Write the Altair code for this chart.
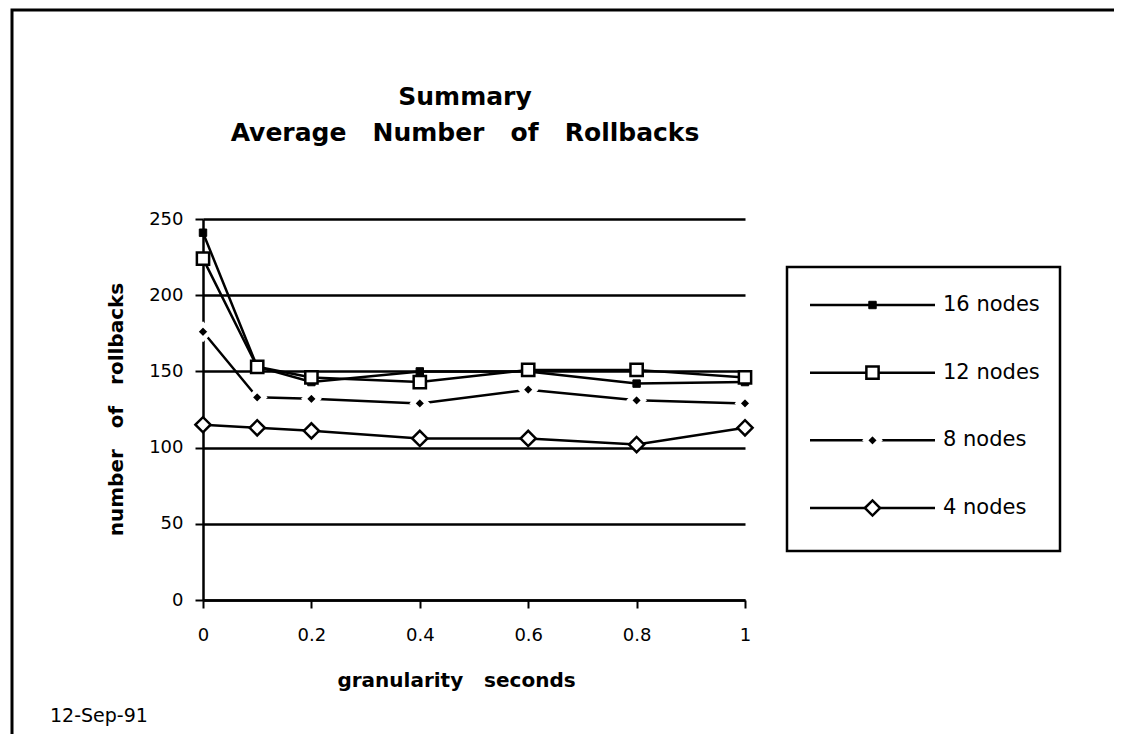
import altair as alt
import pandas as pd

# ---- data ----
granularity = [0, 0.1, 0.2, 0.4, 0.6, 0.8, 1.0]
nodes16 = [241, 153, 143, 150, 150, 142, 143]
nodes12 = [224, 153, 146, 143, 151, 151, 146]
nodes8 = [176, 133, 132, 129, 138, 131, 129]
nodes4 = [115, 113, 111, 106, 106, 102, 113]
series_names = ["16 nodes", "12 nodes", "8 nodes", "4 nodes"]
x_ticks = [0, 0.2, 0.4, 0.6, 0.8, 1.0]
y_ticks = [0, 50, 100, 150, 200, 250]
date_label = ["12-Sep-91"]

FONT = "DejaVu Sans"

rows = []
for name, vals in zip(series_names, [nodes16, nodes12, nodes8, nodes4]):
    for g, v in zip(granularity, vals):
        rows.append({"series": name, "g": g, "v": v})
df = pd.DataFrame(rows)

leg = pd.DataFrame({"series": series_names, "row": list(range(len(series_names)))})

# marker styles per series
styles = {
    "16 nodes": dict(shape="square", filled=True, size=55, fill="black", stroke="black", strokeWidth=1, opacity=1),
    "12 nodes": dict(shape="square", filled=True, size=150, fill="white", stroke="black", strokeWidth=2.5, opacity=1),
    "8 nodes": dict(shape="diamond", filled=True, size=210, fill="black", stroke="white", strokeWidth=4.5, opacity=1),
    "4 nodes": dict(shape="diamond", filled=True, size=230, fill="white", stroke="black", strokeWidth=2.5, opacity=1),
}
draw_order = ["4 nodes", "8 nodes", "16 nodes", "12 nodes"]

xs = alt.Scale(domain=[0, 1], nice=False, zero=False)
ys = alt.Scale(domain=[0, 250], nice=False)

x_enc = alt.X(
    "g:Q", scale=xs,
    axis=alt.Axis(values=x_ticks, format="~g", title="granularity\u00a0\u00a0 seconds",
                  titleX=253, titleY=86, titleAlign="center", titleBaseline="alphabetic",
                  labelPadding=18, tickSize=8, grid=False, labelFlush=False),
)
y_enc = alt.Y(
    "v:Q", scale=ys,
    axis=alt.Axis(values=y_ticks, title="number\u00a0\u00a0 of\u00a0\u00a0 rollbacks",
                  titleX=-87, titleY=190, titleAngle=270, titleAlign="center", titleBaseline="middle",
                  labelPadding=12, tickSize=8, grid=True),
)

base = alt.Chart(df)
lines = base.mark_line(color="black", strokeWidth=2.5).encode(x=x_enc, y=y_enc, detail="series:N")

marker_layers = []
for s in draw_order:
    marker_layers.append(
        base.transform_filter(alt.datum.series == s).mark_point(**styles[s]).encode(x=x_enc, y=y_enc)
    )

main = alt.layer(lines, *marker_layers)

# ---- legend drawn with its own scales ----
lx = alt.Scale(domain=[0, 1], range=[607, 732])
ly = alt.Scale(domain=[0, 3], range=[86, 289])
lbase = alt.Chart(leg)
leg_rule = lbase.mark_rule(color="black", strokeWidth=2.5).encode(
    x=alt.X(datum=0, type="quantitative", scale=lx, axis=None),
    x2=alt.X2(datum=1),
    y=alt.Y("row:Q", scale=ly, axis=None),
)
leg_marks = []
for s in series_names:
    leg_marks.append(
        lbase.transform_filter(alt.datum.series == s).mark_point(**styles[s]).encode(
            x=alt.X(datum=0.5, type="quantitative", scale=lx, axis=None),
            y=alt.Y("row:Q", scale=ly, axis=None),
        )
    )
leg_text = lbase.mark_text(align="left", baseline="middle", dx=8, fontSize=21, font=FONT, color="black").encode(
    x=alt.X(datum=1, type="quantitative", scale=lx, axis=None),
    y=alt.Y("row:Q", scale=ly, axis=None),
    text="series:N",
)
legend = alt.layer(leg_rule, *leg_marks, leg_text)

one = pd.DataFrame({"k": [0]})
leg_box = alt.Chart(one).mark_rect(fillOpacity=0, stroke="black", strokeWidth=2.5).encode(
    x=alt.value(584), x2=alt.value(857), y=alt.value(48), y2=alt.value(332)
)
frame = alt.Chart(one).mark_rect(fillOpacity=0, stroke="black", strokeWidth=3).encode(
    x=alt.value(-191), x2=alt.value(1000), y=alt.value(-209), y2=alt.value(600)
)
date_txt = alt.Chart(pd.DataFrame({"t": date_label})).mark_text(
    align="left", baseline="alphabetic", fontSize=19, font=FONT, color="black"
).encode(x=alt.value(-153), y=alt.value(503), text="t:N")

chart = alt.layer(frame, main, legend, leg_box, date_txt).resolve_scale(
    x="independent", y="independent"
).properties(
    width=542,
    height=381,
    padding={"left": 195, "top": 211, "right": 369, "bottom": 134},
    autosize=alt.AutoSizeParams(type="none"),
    title=alt.TitleParams(
        text=["Summary", "Average\u00a0\u00a0 Number\u00a0\u00a0 of\u00a0\u00a0 Rollbacks"],
        fontSize=25, fontWeight="bold", font=FONT, lineHeight=36,
        offset=-137, dx=-9, color="black", anchor="middle", frame="group",
    ),
).configure_view(strokeWidth=0).configure_axis(
    labelFont=FONT, labelFontSize=18, labelColor="black",
    titleFont=FONT, titleFontSize=20, titleFontWeight="bold", titleColor="black",
    domainColor="black", domainWidth=2.5, tickColor="black", tickWidth=2,
    gridColor="black", gridWidth=2.5, gridOpacity=1,
)

chart.save("out.html", embed_options={"renderer": "svg", "actions": False})
